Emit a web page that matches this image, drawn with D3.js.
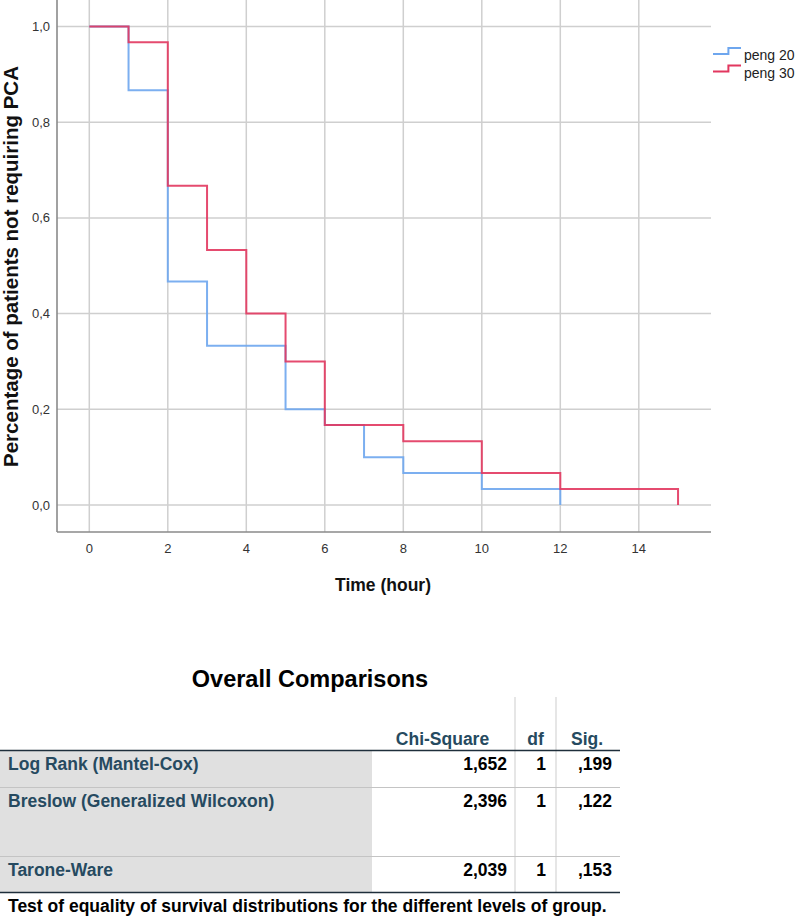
<!DOCTYPE html>
<html>
<head>
<meta charset="utf-8">
<script src="https://cdn.jsdelivr.net/npm/d3@7"></script>
<style>
  html, body { margin: 0; padding: 0; background: #fff; }
  svg { display: block; }
  text { font-family: Arial, "Liberation Sans", sans-serif; }
</style>
</head>
<body>
<svg id="chart" width="797" height="919"></svg>
<script>
// ---------- data ----------
const seriesNames = ["peng 20", "peng 30"];
const peng20Times = [0, 1, 2, 3, 5, 6, 7, 8, 10, 12];
const peng20Surv  = [1.0, 0.867, 0.467, 0.333, 0.2, 0.167, 0.1, 0.0667, 0.0333, 0.0];
const peng30Times = [0, 1, 2, 3, 4, 5, 6, 8, 10, 12, 15];
const peng30Surv  = [1.0, 0.967, 0.667, 0.533, 0.4, 0.3, 0.167, 0.133, 0.0667, 0.0333, 0.0];
const xTicks = [0, 2, 4, 6, 8, 10, 12, 14];
const yTicks = [0, 0.2, 0.4, 0.6, 0.8, 1.0];
const yTickLabels = ["0,0", "0,2", "0,4", "0,6", "0,8", "1,0"];

const tableTitle = "Overall Comparisons";
const tableHeaders = ["Chi-Square", "df", "Sig."];
const testNames = ["Log Rank (Mantel-Cox)", "Breslow (Generalized Wilcoxon)", "Tarone-Ware"];
const chiSquare = ["1,652", "2,396", "2,039"];
const dfValues = ["1", "1", "1"];
const sigValues = [",199", ",122", ",153"];
const tableCaption = "Test of equality of survival distributions for the different levels of group.";

// ---------- chart ----------
const svg = d3.select("#chart");
const plot = { left: 57, right: 711, top: 0, bottom: 532 };
const x = d3.scaleLinear().domain([0, 14]).range([89.3, 638.8]);
const y = d3.scaleLinear().domain([0, 1]).range([505, 26.5]);

const colors = ["#6ea6ee", "#e2375f"];

// grid
const g = svg.append("g");
g.selectAll(".vgrid").data(xTicks).join("line")
  .attr("x1", d => x(d)).attr("x2", d => x(d))
  .attr("y1", plot.top).attr("y2", plot.bottom)
  .attr("stroke", "#cfcfcf").attr("stroke-width", 1.5);
g.selectAll(".hgrid").data(yTicks).join("line")
  .attr("x1", plot.left).attr("x2", plot.right)
  .attr("y1", d => y(d)).attr("y2", d => y(d))
  .attr("stroke", "#cfcfcf").attr("stroke-width", 1.5);

// axes lines
g.append("line").attr("x1", plot.left).attr("x2", plot.left)
  .attr("y1", plot.top).attr("y2", plot.bottom)
  .attr("stroke", "#8a8a8a").attr("stroke-width", 1.6);
g.append("line").attr("x1", plot.left).attr("x2", plot.right)
  .attr("y1", plot.bottom).attr("y2", plot.bottom)
  .attr("stroke", "#8a8a8a").attr("stroke-width", 1.6);

// tick labels
g.selectAll(".xt").data(xTicks).join("text")
  .attr("x", d => x(d)).attr("y", 548)
  .attr("text-anchor", "middle").attr("dominant-baseline", "central")
  .attr("font-size", 13).attr("fill", "#333")
  .text(d => d);
g.selectAll(".yt").data(yTicks).join("text")
  .attr("x", 50).attr("y", d => y(d))
  .attr("text-anchor", "end").attr("dominant-baseline", "central")
  .attr("font-size", 13).attr("fill", "#333")
  .text((d, i) => yTickLabels[i]);

// axis titles
g.append("text").attr("x", 383).attr("y", 585)
  .attr("text-anchor", "middle").attr("dominant-baseline", "central")
  .attr("font-size", 17.5).attr("font-weight", "bold").attr("fill", "#111")
  .text("Time (hour)");
g.append("text").attr("transform", "translate(10,266.5) rotate(-90)")
  .attr("text-anchor", "middle").attr("dominant-baseline", "central")
  .attr("font-size", 20.5).attr("font-weight", "bold").attr("fill", "#111")
  .text("Percentage of patients not requiring PCA");

// step lines
const line = d3.line().x(d => x(d[0])).y(d => y(d[1])).curve(d3.curveStepAfter);
const series = [
  d3.zip(peng20Times, peng20Surv),
  d3.zip(peng30Times, peng30Surv)
];
series.forEach((pts, i) => {
  g.append("path").datum(pts).attr("d", line)
    .attr("fill", "none").attr("stroke", colors[i]).attr("stroke-width", 2)
    .attr("stroke-opacity", 0.9);
});

// legend
const leg = g.append("g");
seriesNames.forEach((name, i) => {
  const ly = 54 + i * 17.5;
  const ix = d3.scaleLinear().domain([0, 1]).range([713, 741]);
  const iy = d3.scaleLinear().domain([0, 1]).range([ly, ly - 6]);
  const l2 = d3.line().x(d => ix(d[0])).y(d => iy(d[1])).curve(d3.curveStepAfter);
  leg.append("path").datum([[0, 0], [0.55, 1], [1, 1]]).attr("d", l2)
    .attr("fill", "none").attr("stroke", colors[i]).attr("stroke-width", 2);
  leg.append("text").attr("x", 744).attr("y", ly + 1)
    .attr("dominant-baseline", "central").attr("font-size", 14).attr("fill", "#222")
    .text(name);
});

// ---------- table ----------
const t = svg.append("g");
const navy = "#264a60";
const tFont = 17.5;
t.append("text").attr("x", 310).attr("y", 679)
  .attr("text-anchor", "middle").attr("dominant-baseline", "central")
  .attr("font-size", 23.5).attr("font-weight", "bold").attr("fill", "#000")
  .text(tableTitle);

const labelY = [764, 801, 869.5];

// gray label column
t.append("rect").attr("x", 0).attr("y", 750.5).attr("width", 372).attr("height", 142)
  .attr("fill", "#e0e0e0");

// vertical separators
[515, 556].forEach(vx => {
  t.append("line").attr("x1", vx).attr("x2", vx).attr("y1", 697).attr("y2", 892.5)
    .attr("stroke", "#d6d6d6").attr("stroke-width", 1.2);
});
// row separators
[787.5, 856.5].forEach(ry => {
  t.append("line").attr("x1", 0).attr("x2", 620).attr("y1", ry).attr("y2", ry)
    .attr("stroke", "#c4c4c4").attr("stroke-width", 1.2);
});
// dark lines
[750.5, 892.5].forEach(ry => {
  t.append("line").attr("x1", 0).attr("x2", 620).attr("y1", ry).attr("y2", ry)
    .attr("stroke", "#1e2e3b").attr("stroke-width", 1.6);
});

// headers
const headerX = [442.5, 535.5, 587];
tableHeaders.forEach((h, i) => {
  t.append("text").attr("x", headerX[i]).attr("y", 739)
    .attr("text-anchor", "middle").attr("dominant-baseline", "central")
    .attr("font-size", tFont).attr("font-weight", "bold").attr("fill", navy)
    .text(h);
});

testNames.forEach((n, i) => {
  t.append("text").attr("x", 8).attr("y", labelY[i])
    .attr("dominant-baseline", "central")
    .attr("font-size", tFont).attr("font-weight", "bold").attr("fill", navy)
    .text(n);
  t.append("text").attr("x", 507).attr("y", labelY[i])
    .attr("text-anchor", "end").attr("dominant-baseline", "central")
    .attr("font-size", tFont).attr("font-weight", "bold").attr("fill", "#000")
    .text(chiSquare[i]);
  t.append("text").attr("x", 546).attr("y", labelY[i])
    .attr("text-anchor", "end").attr("dominant-baseline", "central")
    .attr("font-size", tFont).attr("font-weight", "bold").attr("fill", "#000")
    .text(dfValues[i]);
  t.append("text").attr("x", 612).attr("y", labelY[i])
    .attr("text-anchor", "end").attr("dominant-baseline", "central")
    .attr("font-size", tFont).attr("font-weight", "bold").attr("fill", "#000")
    .text(sigValues[i]);
});

t.append("text").attr("x", 8).attr("y", 906)
  .attr("dominant-baseline", "central")
  .attr("font-size", tFont).attr("font-weight", "bold").attr("fill", "#000")
  .text(tableCaption);
</script>
</body>
</html>
